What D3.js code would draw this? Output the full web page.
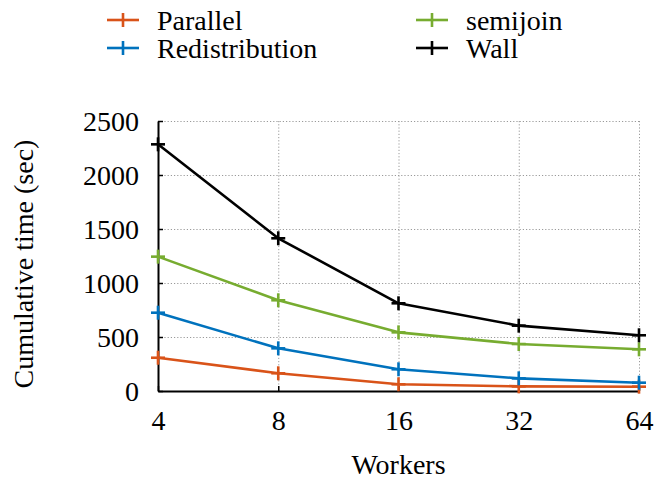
<!DOCTYPE html>
<html>
<head>
<meta charset="utf-8">
<script src="https://cdn.jsdelivr.net/npm/d3@7"></script>
<style>
  html, body { margin: 0; padding: 0; background: #fff; }
  svg { display: block; }
</style>
</head>
<body>
<svg id="chart" width="657" height="481"></svg>
<script>
// Worker counts on the x axis
const workers = [4, 8, 16, 32, 64];
// Cumulative time (sec) for each series
const parallel       = [308, 164, 62, 43, 40];
const redistribution = [725, 395, 201, 117, 77];
const semijoin       = [1244, 840, 543, 435, 386];
const wall           = [2284, 1414, 812, 605, 516];
const seriesNames  = ["Parallel", "Redistribution", "semijoin", "Wall"];
const seriesColors = ["#D95319", "#0072BD", "#77AC30", "#000000"];
const yTicks = [0, 500, 1000, 1500, 2000, 2500];

const seriesValues = [parallel, redistribution, semijoin, wall];
const fontSize = "28px";

// Pick the first installed serif face (Times-like metrics preferred)
function pickFont(candidates) {
  const ctx = document.createElement("canvas").getContext("2d");
  const sample = "Workers Redistribution 0123456789";
  ctx.font = "28px monospace";
  const base = ctx.measureText(sample).width;
  for (const f of candidates) {
    ctx.font = `28px '${f}', monospace`;
    if (Math.abs(ctx.measureText(sample).width - base) > 0.5) return `'${f}', serif`;
  }
  return "serif";
}
const serif = pickFont(["Liberation Serif", "Times New Roman", "Tinos", "Nimbus Roman",
  "Nimbus Roman No9 L", "FreeSerif", "DejaVu Serif", "Noto Serif"]);

const svg = d3.select("#chart");
const plotLeft = 158, plotRight = 639, plotTop = 121, plotBottom = 391;

const x = d3.scaleLog().base(2).domain([4, 64]).range([plotLeft, plotRight]);
const y = d3.scaleLinear().domain([0, 2500]).range([plotBottom, plotTop]);

// Dotted grid
const grid = svg.append("g").attr("stroke", "#9a9a9a").attr("stroke-width", 1)
  .attr("stroke-dasharray", "1.2,2");
grid.selectAll("line.h").data(yTicks.filter(d => d > 0)).join("line")
  .attr("x1", plotLeft).attr("x2", plotRight)
  .attr("y1", d => y(d) + 0.5).attr("y2", d => y(d) + 0.5);
grid.selectAll("line.v").data(workers.filter(d => d > 4)).join("line")
  .attr("x1", d => x(d) + 0.5).attr("x2", d => x(d) + 0.5)
  .attr("y1", plotTop).attr("y2", plotBottom);

// Axes with inward ticks
const xAxis = d3.axisBottom(x).tickValues(workers).tickFormat(d3.format("d"))
  .tickSizeInner(-5).tickSizeOuter(0).tickPadding(19);
const yAxis = d3.axisLeft(y).tickValues(yTicks).tickFormat(d3.format("d"))
  .tickSizeInner(-5).tickSizeOuter(0).tickPadding(19);

const gx = svg.append("g").attr("transform", `translate(0,${plotBottom})`).call(xAxis);
const gy = svg.append("g").attr("transform", `translate(${plotLeft},0)`).call(yAxis);
[gx, gy].forEach(g => {
  g.attr("font-family", serif).attr("font-size", fontSize);
  g.select(".domain").attr("stroke", "#000").attr("stroke-width", 2);
  g.selectAll(".tick line").attr("stroke", "#000").attr("stroke-width", 1.5);
  g.selectAll(".tick text").attr("fill", "#000");
});
gx.selectAll(".tick text").attr("dy", "0.71em");
gy.selectAll(".tick text").attr("dy", "0.35em");

// Series lines and plus markers
const line = d3.line().x((d, i) => x(workers[i])).y(d => y(d));
const plus = (g, cx, cy, color, r) => {
  g.append("line").attr("x1", cx - r).attr("x2", cx + r).attr("y1", cy).attr("y2", cy)
    .attr("stroke", color).attr("stroke-width", 2.6);
  g.append("line").attr("x1", cx).attr("x2", cx).attr("y1", cy - r).attr("y2", cy + r)
    .attr("stroke", color).attr("stroke-width", 2.6);
};

seriesValues.forEach((vals, s) => {
  const g = svg.append("g");
  g.append("path").datum(vals).attr("d", line)
    .attr("fill", "none").attr("stroke", seriesColors[s]).attr("stroke-width", 2.6)
    .attr("stroke-linejoin", "round");
  vals.forEach((v, i) => plus(g, x(workers[i]), y(v), seriesColors[s], 7));
});

// Axis titles
svg.append("text").attr("x", (plotLeft + plotRight) / 2).attr("y", 474)
  .attr("text-anchor", "middle").attr("font-family", serif).attr("font-size", fontSize).text("Workers");
svg.append("text").attr("transform", "translate(33,264) rotate(-90)")
  .attr("text-anchor", "middle").attr("font-family", serif).attr("font-size", fontSize)
  .text("Cumulative time (sec)");

// Legend in two columns
const legendPos = [[123, 20], [123, 48], [432, 20], [432, 48]];
seriesNames.forEach((name, s) => {
  const [cx, cy] = legendPos[s];
  const g = svg.append("g");
  g.append("line").attr("x1", cx - 16).attr("x2", cx + 16).attr("y1", cy).attr("y2", cy)
    .attr("stroke", seriesColors[s]).attr("stroke-width", 2.6);
  g.append("line").attr("x1", cx).attr("x2", cx).attr("y1", cy - 7).attr("y2", cy + 7)
    .attr("stroke", seriesColors[s]).attr("stroke-width", 2.6);
  g.append("text").attr("x", cx + 34).attr("y", cy + 10)
    .attr("font-family", serif).attr("font-size", fontSize).text(name);
});
</script>
</body>
</html>
